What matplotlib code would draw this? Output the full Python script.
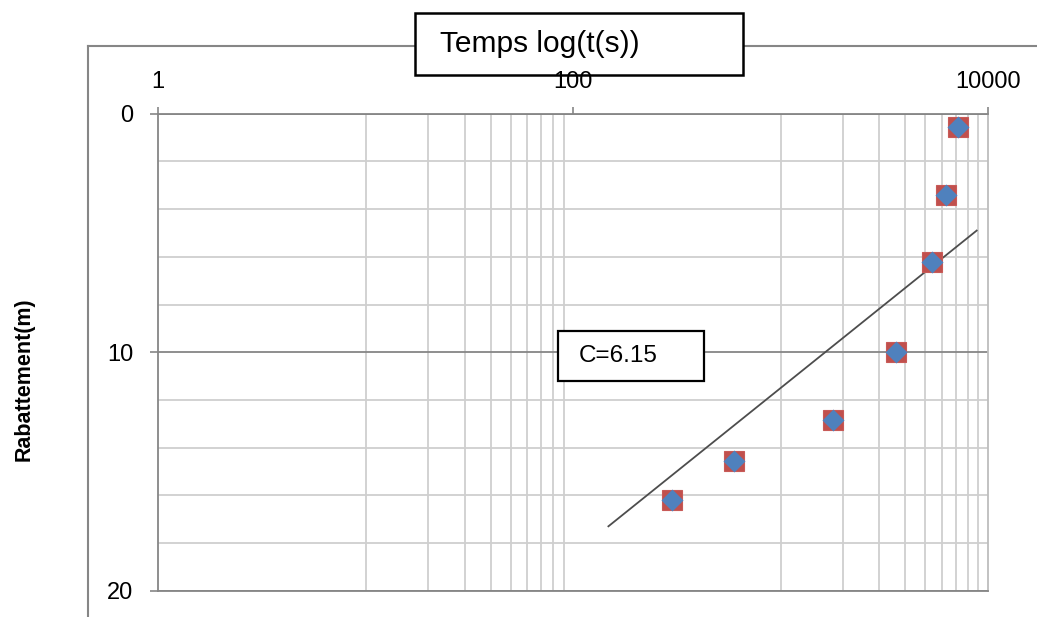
import numpy as np
import matplotlib
matplotlib.use("Agg")
import matplotlib.pyplot as plt
from matplotlib.patches import Rectangle
from matplotlib.lines import Line2D
from matplotlib.ticker import FixedLocator, NullFormatter

plt.rcParams['font.family'] = ['Liberation Sans', 'DejaVu Sans']

# pumping test: drawdown against time
t_s = [300, 600, 1800, 3600, 5400, 6300, 7200]
rabattement = [16.2, 14.55, 12.85, 10.0, 6.2, 3.4, 0.55]

# straight line of the Jacob method
trend_t = [148, 8830]
trend_s = [17.3, 4.9]

x_major = [1, 100, 10000]
x_minor = [10, 20, 30, 40, 50, 60, 70, 80, 90,
           1000, 2000, 3000, 4000, 5000, 6000, 7000, 8000, 9000, 10000]
y_major = [0, 10, 20]
y_minor = [2, 4, 6, 8, 12, 14, 16, 18]

W, H = 1037, 617
fig = plt.figure(figsize=(W / 100, H / 100), dpi=100)
fig.patch.set_facecolor('white')

def fx(px):
    return px / W

def fy(py):
    return 1 - py / H

ax = fig.add_axes([fx(158.3), fy(590.7), fx(987.9) - fx(158.3), fy(113.7) - fy(590.7)])

dark = '#868686'
light = '#cfcfcf'

ax.set_xscale('log')
ax.set_xlim(1, 10000)
ax.set_ylim(20, 0)

ax.xaxis.set_major_locator(FixedLocator(x_major))
ax.xaxis.set_minor_locator(FixedLocator(x_minor))
ax.xaxis.set_minor_formatter(NullFormatter())
ax.set_xticklabels([str(v) for v in x_major])
ax.yaxis.set_major_locator(FixedLocator(y_major))
ax.yaxis.set_minor_locator(FixedLocator(y_minor))

ax.xaxis.tick_top()
ax.tick_params(axis='x', which='major', direction='out', length=5, width=1.2,
               color=dark, pad=10, labelsize=17)
ax.tick_params(axis='y', which='major', direction='out', length=5.8, width=1.2,
               color=dark, pad=12, labelsize=17)
ax.tick_params(which='minor', length=0)

ax.grid(axis='x', which='minor', color=light, lw=1.3)
ax.grid(axis='y', which='minor', color=light, lw=1.3)
ax.grid(axis='y', which='major', color=dark, lw=1.3)

for side in ['top', 'left', 'bottom']:
    ax.spines[side].set_color(dark)
    ax.spines[side].set_linewidth(1.3)
ax.spines['right'].set_color('#bdbdbd')
ax.spines['right'].set_linewidth(1.3)

ax.plot(trend_t, trend_s, color='#4d4d4d', lw=1.3, zorder=3)
ax.plot(t_s, rabattement, ls='none', marker='s', ms=14.8,
        mfc='#C0504D', mec='#C85A57', mew=0.8, zorder=4)
ax.plot(t_s, rabattement, ls='none', marker='D', ms=10.8,
        mfc='#4F81BD', mec='none', zorder=5)

# outer chart frame
fig.add_artist(Line2D([fx(88), fx(88)], [fy(46), 0], color=dark, lw=1.5, zorder=-2))
fig.add_artist(Line2D([fx(88), 1], [fy(46), fy(46)], color=dark, lw=1.5, zorder=-2))

# axis title box
fig.add_artist(Rectangle((fx(415), fy(75)), fx(743) - fx(415), fy(13) - fy(75),
                         transform=fig.transFigure, facecolor='white',
                         edgecolor='black', lw=1.8, zorder=-1))
fig.text(fx(440), fy(51.7), 'Temps log(t(s))', fontsize=21.5, ha='left',
         va='baseline', zorder=-1)

# slope annotation box
fig.add_artist(Rectangle((fx(558), fy(381)), fx(704) - fx(558), fy(331) - fy(381),
                         transform=fig.transFigure, facecolor='white',
                         edgecolor='black', lw=1.6, zorder=6))
fig.text(fx(579), fy(356), 'C=6.15', fontsize=17.5, ha='left', va='center', zorder=7)

fig.text(fx(24), fy(379), 'Rabattement(m)', rotation=90, fontsize=15.5,
         fontweight='bold', ha='center', va='center')

fig.savefig('out.png', dpi=100, facecolor='white')
